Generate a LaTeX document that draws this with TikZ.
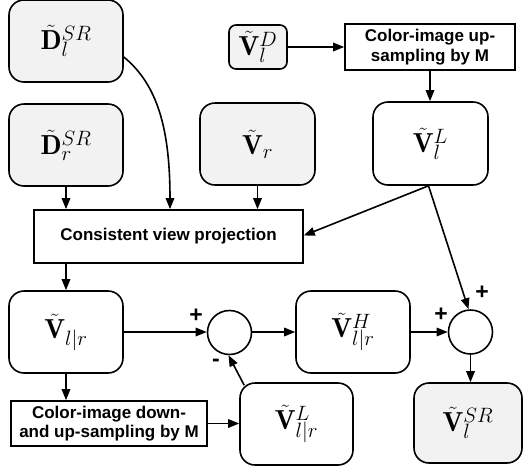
\documentclass[tikz,border=0pt]{standalone}
\usepackage{fontspec}
\newfontfamily\labfont{Liberation Sans}
\usetikzlibrary{arrows.meta,calc}
\definecolor{boxgray}{HTML}{F2F2F2}
\tikzset{
  every picture/.style={line width=1.6pt},
  mbox/.style={draw, rounded corners=15pt, minimum width=114pt, minimum height=82pt, inner sep=0pt, font=\fontsize{27.5}{32}\selectfont},
  gbox/.style={mbox, fill=boxgray},
  tbox/.style={draw, inner sep=0pt, align=center, font=\labfont\bfseries\fontsize{17}{19.5}\selectfont},
  sumc/.style={draw, circle, minimum size=44pt, inner sep=0pt},
  sgn/.style={font=\labfont\bfseries\fontsize{23}{23}\selectfont, inner sep=0pt},
  arr/.style={-{Triangle[length=11pt,width=8.5pt]}},
}
\begin{document}
\begin{tikzpicture}[x=1pt,y=-1pt]
\useasboundingbox (0,0) rectangle (524,467);
\node[gbox] (Dl) at (66,41) {$\tilde{\mathbf{D}}_l^{SR}$};
\node[gbox] (Dr) at (66,145) {$\tilde{\mathbf{D}}_r^{SR}$};
\node[gbox, minimum width=115pt] (Vr) at (257.5,144) {$\tilde{\mathbf{V}}_r$};
\node[gbox, rounded corners=7pt, minimum width=58pt, minimum height=44pt] (VlD) at (258,47) {$\tilde{\mathbf{V}}_l^{D}$};
\node[tbox, minimum width=170pt, minimum height=46pt] (up) at (430,47) {Color-image up-\\sampling by M};
\node[mbox, minimum width=115pt, minimum height=83pt] (VlL) at (430.5,143.5) {$\tilde{\mathbf{V}}_l^{L}$};
\node[tbox, minimum width=269pt, minimum height=53pt] (cvp) at (168.5,236.5) {Consistent view projection};
\node[mbox] (Vlr) at (66,332) {$\tilde{\mathbf{V}}_{l|r}$};
\node[sumc] (c1) at (229.5,332.5) {};
\node[mbox] (VH) at (353,332) {$\tilde{\mathbf{V}}_{l|r}^{H}$};
\node[sumc] (c2) at (470.5,332) {};
\node[gbox, minimum width=108pt, minimum height=80pt] (VSR) at (468,423) {$\tilde{\mathbf{V}}_l^{SR}$};
\node[mbox, minimum width=113pt] (VL) at (296.5,424) {$\tilde{\mathbf{V}}_{l|r}^{L}$};
\node[tbox, minimum width=196pt, minimum height=45pt] (down) at (109,423.5) {Color-image down-\\and up-sampling by M};
% signs
\node[sgn] (p1) at (196,316) {+};
\node[sgn] (m1) at (216,363) {-};
\node[sgn] (p2) at (441,315) {+};
\node[sgn] (p3) at (482,293) {+};
% connectors
\coordinate (dls) at ($(Dl.east)+(0,16)$);
\draw[arr] (dls) .. controls (158,85) and (170,130) .. (cvp.north -| 170,0);
\draw[arr] (Dr.south) -- (cvp.north -| Dr.south);
\draw[arr] (Vr.south) -- (cvp.north -| Vr.south);
\draw[arr] (VlD.east) -- (up.west);
\draw[arr] (up.south) -- (VlL.north -| up.south);
\coordinate (vll) at ($(VlL.south)+(-2,0)$);
\draw[arr] (vll) -- ($(cvp.east)+(0,-1)$);
\draw[arr] (vll) -- ($(c2.north)+(-2,0)$);
\draw[arr] (cvp.south -| Vlr.north) -- (Vlr.north);
\draw[arr] (Vlr.east) -- (c1.west |- Vlr.east);
\draw[arr] (c1.east |- VH.west) -- (VH.west);
\draw[arr] (VH.east) -- (c2.west);
\draw[arr] (c2.south) -- (VSR.north -| c2.south);
\draw[arr] (Vlr.south) -- (down.north -| Vlr.south);
\draw[arr] (down.east) -- (VL.west |- down.east);
\coordinate (vls) at ($(VL.north west)+(5,3)$);
\draw[arr] (vls) -- ($(c1.south)+(-1,0)$);
\end{tikzpicture}
\end{document}
